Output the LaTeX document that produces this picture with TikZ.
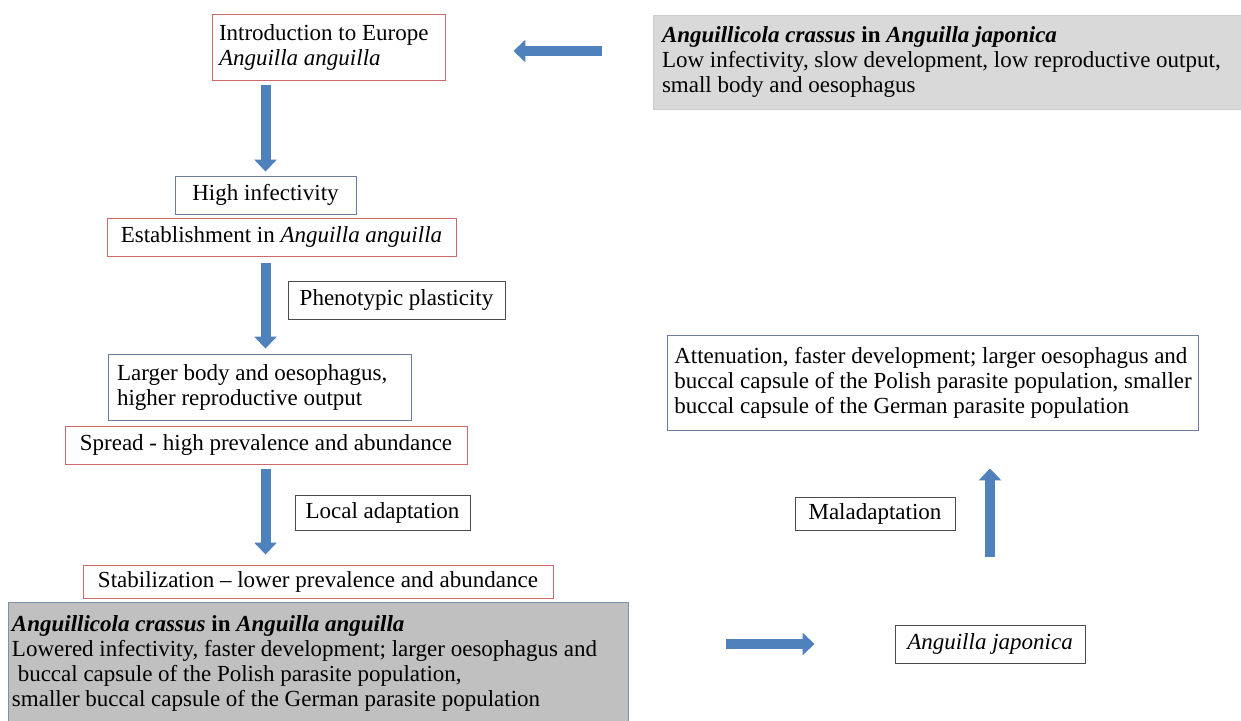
\documentclass[tikz,border=0pt]{standalone}
\usepackage{fontspec}
\setmainfont{Liberation Serif}
\usetikzlibrary{arrows.meta}
\definecolor{redb}{RGB}{205,105,105}
\definecolor{blueb}{RGB}{105,125,155}
\definecolor{darkb}{RGB}{75,75,75}
\definecolor{grayA}{RGB}{217,217,217}
\definecolor{grayAb}{RGB}{205,205,205}
\definecolor{grayB}{RGB}{192,192,192}
\definecolor{grayBb}{RGB}{125,145,170}
\definecolor{arrowc}{RGB}{79,129,189}
\newcommand{\myfs}{\fontsize{23}{25}\selectfont}
\tikzset{
  basebox/.style={draw, font=\myfs, inner xsep=7pt, inner ysep=4pt, line width=0.9pt, align=flush left},
  redbox/.style={basebox, draw=redb},
  bluebox/.style={basebox, draw=blueb},
  darkbox/.style={basebox, draw=darkb},
  grayboxA/.style={basebox, fill=grayA, draw=grayAb},
  grayboxB/.style={basebox, fill=grayB, draw=grayBb},
  barrow/.style={draw=arrowc, line width=10pt, -{Triangle[width=22pt,length=12pt]}}
}
\begin{document}
\begin{tikzpicture}[x=1pt,y=-1pt]
\useasboundingbox (0,0) rectangle (1241,720);
\fill[white] (0,0) rectangle (1241,720);

% left column
\node[redbox, text width=219pt, minimum height=66pt] (intro) at (328.5,47)
  {Introduction to Europe\\\textit{Anguilla anguilla}};
\node[bluebox, minimum width=181pt, minimum height=38pt] (hi) at (265.5,195) {High infectivity};
\node[redbox, minimum width=349pt, minimum height=38pt] (est) at (281.5,237)
  {Establishment in \textit{Anguilla anguilla}};
\node[darkbox, minimum width=217pt, minimum height=38pt] (pheno) at (396.5,300) {Phenotypic plasticity};
\node[bluebox, inner xsep=9pt, text width=285pt, minimum height=66pt] (larger) at (259.5,387)
  {Larger body and oesophagus,\\higher reproductive output};
\node[redbox, minimum width=402pt, minimum height=38pt] (spread) at (266,445)
  {Spread - high prevalence and abundance};
\node[darkbox, minimum width=175pt, minimum height=35pt] (local) at (382.5,512.5) {Local adaptation};
\node[redbox, minimum width=470pt, minimum height=33pt] (stab) at (318,581.5)
  {Stabilization -- lower prevalence and abundance};
\node[grayboxB, inner xsep=4pt, text width=612pt, minimum height=122pt] (bottom) at (318,663)
  {\textbf{\textit{Anguillicola crassus}} \textbf{in} \textbf{\textit{Anguilla anguilla}}\\
   Lowered infectivity, faster development; larger oesophagus and\\
   \ buccal capsule of the Polish parasite population,\\
   smaller buccal capsule of the German parasite population};

% right column
\node[grayboxA, inner xsep=9pt, text width=574pt, minimum height=94pt] (topr) at (949,62)
  {\textbf{\textit{Anguillicola crassus}} \textbf{in} \textbf{\textit{Anguilla japonica}}\\
   Low infectivity, slow development, low reproductive output,\\
   small body and oesophagus};
\node[bluebox, minimum width=530pt, minimum height=95pt] (attn) at (933,382.5)
  {Attenuation, faster development; larger oesophagus and\\
   buccal capsule of the Polish parasite population, smaller\\
   buccal capsule of the German parasite population};
\node[darkbox, minimum width=160pt, minimum height=33pt] (mal) at (875,513.5) {Maladaptation};
\node[darkbox, minimum width=190pt, minimum height=38pt] (jap) at (990,644) {\textit{Anguilla japonica}};

% block arrows
\coordinate (s0) at ([yshift=11pt]topr.west);
\draw[barrow, shorten <=51pt, shorten >=68pt] (s0) -- (intro.east |- s0);
\draw[barrow, shorten <=5pt, shorten >=4pt] (intro.south -| hi.north) -- (hi.north);
\draw[barrow, shorten <=7pt, shorten >=5pt] (est.south -| hi.north) -- (larger.north -| hi.north);
\draw[barrow, shorten <=5pt, shorten >=10pt] (spread.south -| hi.north) -- (stab.north -| hi.north);
\draw[barrow, shorten <=68pt, shorten >=38pt] (jap.north) -- (attn.south -| jap.north);
\draw[barrow, shorten <=98pt, shorten >=80pt] (bottom.east |- jap.west) -- (jap.west);
\end{tikzpicture}
\end{document}
